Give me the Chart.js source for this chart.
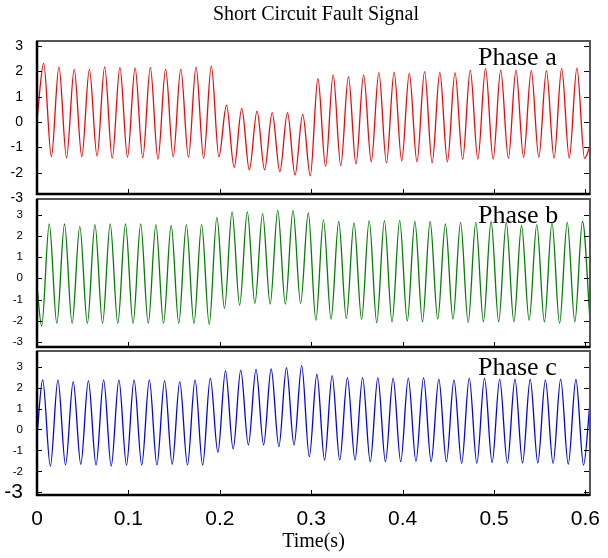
<!DOCTYPE html>
<html><head><meta charset="utf-8">
<script src="https://cdn.jsdelivr.net/npm/chart.js@4/dist/chart.umd.min.js"></script>
<style>
html,body{margin:0;padding:0;background:#fff;}
#wrap{position:relative;width:608px;height:558px;overflow:hidden;background:#fff;}
canvas{position:absolute;left:0;}
</style></head><body>
<div id="wrap">
<canvas id="c1" width="608" height="210" style="top:0px"></canvas>
<canvas id="c2" width="608" height="180" style="top:185px"></canvas>
<canvas id="c3" width="608" height="221" style="top:337px"></canvas>
</div>
<script>
const chartTitle = 'Short Circuit Fault Signal';
const xTitle = 'Time(s)';
const phaseNames = ['Phase a', 'Phase b', 'Phase c'];
const xTicks = [0, 0.1, 0.2, 0.3, 0.4, 0.5, 0.6];
const yTicks = [-3, -2, -1, 0, 1, 2, 3];

// Phase a: extrema (time in s, value)
const aStart = 0.1;
const aEnd = -0.97;
const aPeakT = [0.0073,0.0240,0.0407,0.0573,0.0740,0.0907,0.1073,0.1240,0.1407,0.1573,0.1740,0.1907,0.2073,0.2240,0.2407,0.2573,0.2740,0.2907,0.3073,0.3240,0.3407,0.3573,0.3740,0.3907,0.4073,0.4240,0.4407,0.4573,0.4740,0.4907,0.5073,0.5240,0.5407,0.5573,0.5740,0.5907];
const aPeakV = [2.32,2.18,2.08,2.08,2.18,2.16,2.14,2.16,2.09,2.09,2.18,2.21,0.67,0.54,0.43,0.37,0.37,0.30,1.72,1.86,1.79,1.86,1.95,1.97,1.92,1.99,1.96,1.95,2.05,2.12,2.05,2.05,2.03,2.03,2.12,2.14];
const aTroughT = [0.0157,0.0323,0.0490,0.0657,0.0823,0.0990,0.1157,0.1323,0.1490,0.1657,0.1823,0.1990,0.2157,0.2323,0.2490,0.2657,0.2823,0.2990,0.3157,0.3323,0.3490,0.3657,0.3823,0.3990,0.4157,0.4323,0.4490,0.4657,0.4823,0.4990,0.5157,0.5323,0.5490,0.5657,0.5823,0.5990];
const aTroughV = [-1.37,-1.41,-1.37,-1.34,-1.43,-1.39,-1.41,-1.47,-1.37,-1.39,-1.43,-1.37,-1.79,-1.89,-1.89,-1.96,-2.09,-2.12,-1.76,-1.72,-1.66,-1.57,-1.61,-1.53,-1.57,-1.61,-1.57,-1.47,-1.47,-1.47,-1.43,-1.39,-1.39,-1.43,-1.43,-1.43];

// Phase b
const bStart = -0.4;
const bEnd = null;
const bPeakT = [0.0134,0.0301,0.0468,0.0634,0.0801,0.0968,0.1134,0.1301,0.1468,0.1634,0.1801,0.1968,0.2134,0.2301,0.2468,0.2634,0.2801,0.2968,0.3134,0.3301,0.3468,0.3634,0.3801,0.3968,0.4134,0.4301,0.4468,0.4634,0.4801,0.4968,0.5134,0.5301,0.5468,0.5634,0.5801,0.5968];
const bPeakV = [2.56,2.56,2.45,2.53,2.56,2.56,2.56,2.53,2.49,2.53,2.53,2.87,3.13,3.13,3.05,3.20,3.20,3.08,2.76,2.68,2.61,2.72,2.72,2.72,2.68,2.68,2.56,2.64,2.64,2.68,2.64,2.49,2.53,2.61,2.64,2.68];
const bTroughT = [0.0051,0.0217,0.0384,0.0551,0.0717,0.0884,0.1051,0.1217,0.1384,0.1551,0.1717,0.1884,0.2051,0.2217,0.2384,0.2551,0.2717,0.2884,0.3051,0.3217,0.3384,0.3551,0.3717,0.3884,0.4051,0.4217,0.4384,0.4551,0.4717,0.4884,0.5051,0.5217,0.5384,0.5551,0.5717,0.5884,0.6051];
const bTroughV = [-2.25,-2.13,-2.13,-2.13,-2.13,-2.13,-2.13,-2.13,-2.13,-2.13,-2.13,-2.18,-1.42,-1.27,-1.19,-1.22,-1.22,-1.19,-1.98,-1.93,-1.90,-1.93,-2.09,-2.05,-2.02,-2.05,-1.93,-1.93,-2.09,-2.05,-2.05,-2.05,-1.98,-2.05,-2.13,-2.05,-2.06];

// Phase c
const cStart = -0.26;
const cEnd = 1.27;
const cPeakT = [0.0062,0.0229,0.0396,0.0562,0.0729,0.0896,0.1062,0.1229,0.1396,0.1562,0.1729,0.1896,0.2062,0.2229,0.2396,0.2562,0.2729,0.2896,0.3062,0.3229,0.3396,0.3562,0.3729,0.3896,0.4062,0.4229,0.4396,0.4562,0.4729,0.4896,0.5062,0.5229,0.5396,0.5562,0.5729,0.5896];
const cPeakV = [2.37,2.37,2.29,2.33,2.37,2.37,2.37,2.37,2.33,2.29,2.37,2.45,2.80,2.84,2.87,2.89,2.95,3.05,2.64,2.57,2.48,2.48,2.48,2.45,2.45,2.48,2.41,2.37,2.45,2.45,2.41,2.40,2.40,2.37,2.41,2.40];
const cTroughT = [0.0146,0.0312,0.0479,0.0646,0.0812,0.0979,0.1146,0.1312,0.1479,0.1646,0.1812,0.1979,0.2146,0.2312,0.2479,0.2646,0.2812,0.2979,0.3146,0.3312,0.3479,0.3646,0.3812,0.3979,0.4146,0.4312,0.4479,0.4646,0.4812,0.4979,0.5146,0.5312,0.5479,0.5646,0.5812,0.5979];
const cTroughV = [-1.75,-1.70,-1.66,-1.70,-1.75,-1.70,-1.70,-1.70,-1.66,-1.70,-1.70,-1.09,-0.93,-0.74,-0.74,-0.82,-0.74,-1.30,-1.46,-1.46,-1.46,-1.54,-1.54,-1.54,-1.52,-1.54,-1.54,-1.62,-1.62,-1.58,-1.60,-1.60,-1.60,-1.62,-1.66,-1.70];

const X_MIN = 0, X_MAX = 0.605;

function buildPoints(startV, pT, pV, tT, tV, endV) {
  const pts = [{x: X_MIN, y: startV}];
  pT.forEach((t, i) => pts.push({x: t, y: pV[i]}));
  tT.forEach((t, i) => pts.push({x: t, y: tV[i]}));
  pts.sort((p, q) => p.x - q.x);
  if (endV !== null) pts.push({x: X_MAX, y: endV});
  return pts;
}

const framePlugin = {
  id: 'frame',
  afterDraw(chart, args, opts) {
    const ctx = chart.ctx;
    const a = chart.chartArea;
    const xs = chart.scales.x, ys = chart.scales.y;
    ctx.save();
    ctx.strokeStyle = '#000';
    ctx.lineWidth = 1;
    yTicks.forEach(v => {
      const y = Math.round(ys.getPixelForValue(v)) + 0.5;
      if (y <= a.top + 2 || y >= a.bottom - 2) return;
      ctx.beginPath(); ctx.moveTo(a.left, y); ctx.lineTo(a.left + 5, y); ctx.stroke();
      ctx.beginPath(); ctx.moveTo(a.right - 6, y); ctx.lineTo(a.right, y); ctx.stroke();
    });
    xTicks.forEach(v => {
      const x = Math.round(xs.getPixelForValue(v)) + 0.5;
      if (x <= a.left + 2 || x >= a.right - 2) return;
      ctx.beginPath(); ctx.moveTo(x, a.bottom); ctx.lineTo(x, a.bottom - 5); ctx.stroke();
    });
    ctx.strokeStyle = '#555';
    ctx.lineWidth = 2;
    ctx.strokeRect(a.left, a.top, a.right - a.left, a.bottom - a.top);
    ctx.strokeStyle = '#000';
    ctx.lineWidth = 2.5;
    ctx.beginPath();
    ctx.moveTo(a.left, a.top); ctx.lineTo(a.left, a.bottom); ctx.lineTo(a.right, a.bottom);
    ctx.stroke();
    ctx.fillStyle = '#000';
    ctx.font = '26px "Liberation Serif", "Times New Roman", serif';
    ctx.textAlign = 'left';
    ctx.textBaseline = 'alphabetic';
    ctx.fillText(opts.label, 478, a.top + 24);
    if (opts.title) {
      ctx.font = '20px "Liberation Serif", "Times New Roman", serif';
      ctx.textAlign = 'center';
      ctx.textBaseline = 'middle';
      ctx.fillText(opts.title, 316, 15);
    }
    ctx.restore();
  }
};

function makeChart(id, cfg) {
  return new Chart(document.getElementById(id), {
    type: 'line',
    data: {datasets: [{
      data: cfg.points, borderColor: cfg.color, borderWidth: 1.3,
      pointRadius: 0, cubicInterpolationMode: 'monotone', fill: false
    }]},
    options: {
      responsive: false, animation: false, events: [],
      layout: {padding: {left: 0, right: 18, top: cfg.padTop, bottom: cfg.padBottom}},
      plugins: {
        legend: {display: false}, tooltip: {enabled: false},
        frame: {label: cfg.label, title: cfg.title || null}
      },
      scales: {
        x: {
          type: 'linear', min: X_MIN, max: X_MAX, display: cfg.showX,
          grid: {display: false}, border: {display: false},
          afterBuildTicks: s => { s.ticks = xTicks.map(v => ({value: v})); },
          ticks: {
            font: {family: '"Liberation Sans", Arial, sans-serif', size: 21},
            color: '#000', padding: 4, maxRotation: 0, autoSkip: false,
            callback: v => String(v)
          },
          title: {
            display: cfg.showX, text: xTitle, color: '#000',
            font: {family: '"Liberation Serif", "Times New Roman", serif', size: 20},
            padding: {top: 0, bottom: 4}
          },
          afterFit: s => { s.height = cfg.showX ? 63 : 0; }
        },
        y: {
          min: cfg.min, max: cfg.max,
          grid: {display: false}, border: {display: false},
          afterBuildTicks: s => { s.ticks = yTicks.map(v => ({value: v})); },
          ticks: {
            color: '#000', padding: 6, autoSkip: false,
            callback: v => String(v),
            font: ctx => (cfg.bigMin && ctx.tick && ctx.tick.value === -3)
              ? {family: '"Liberation Sans", Arial, sans-serif', size: 21}
              : {family: '"Liberation Sans", Arial, sans-serif', size: cfg.tickSize}
          },
          afterFit: s => { s.width = 37; }
        }
      }
    },
    plugins: [framePlugin]
  });
}

makeChart('c1', {
  points: buildPoints(aStart, aPeakT, aPeakV, aTroughT, aTroughV, aEnd),
  color: '#ff0000', label: phaseNames[0], title: chartTitle,
  min: -2.84, max: 3.2, padTop: 41, padBottom: 16, showX: false, tickSize: 14, bigMin: false
});
makeChart('c2', {
  points: buildPoints(bStart, bPeakT, bPeakV, bTroughT, bTroughV, bEnd),
  color: '#008000', label: phaseNames[1],
  min: -3.24, max: 3.74, padTop: 14, padBottom: 18, showX: false, tickSize: 11.5, bigMin: false
});
makeChart('c3', {
  points: buildPoints(cStart, cPeakT, cPeakV, cTroughT, cTroughV, cEnd),
  color: '#0000ff', label: phaseNames[2],
  min: -3.13, max: 3.75, padTop: 14, padBottom: 0, showX: true, tickSize: 11.5, bigMin: true
});
</script>
</body></html>
